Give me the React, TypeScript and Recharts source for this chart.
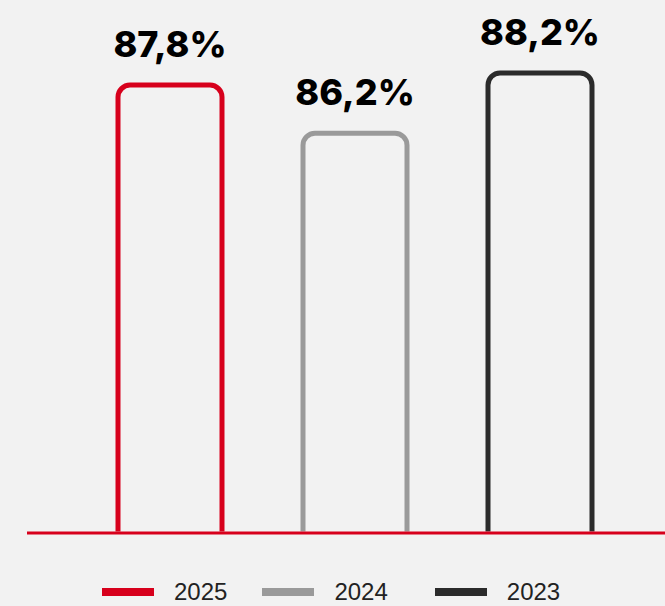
import { BarChart, Bar, XAxis, YAxis, Legend, LabelList } from 'recharts';

const years = ['2025', '2024', '2023'];
const values = [87.8, 86.2, 88.2];
const colors = ['#d7001c', '#9a9a9a', '#2b2b2b'];

const BG = '#f2f2f2';

const row: any = { name: '' };
years.forEach((y, i) => {
  row['y' + y] = values[i];
});
const chartData = [row];

const fmt = (v: any) => Number(v).toFixed(1).replace('.', ',') + '%';

const OpenBar = (props: any) => {
  const { x, y, width, height, stroke } = props;
  const r = 12;
  const b = y + height - 1.5;
  const d = `M${x},${b} L${x},${y + r} A${r},${r} 0 0 1 ${x + r},${y} L${x + width - r},${y} A${r},${r} 0 0 1 ${x + width},${y + r} L${x + width},${b}`;
  return <path d={d} fill={BG} stroke={stroke} strokeWidth={5} />;
};

const renderLegend = () => (
  <div style={{ display: 'flex', alignItems: 'center', paddingLeft: 102, height: 24 }}>
    {years.map((y, i) => (
      <div key={y} style={{ display: 'flex', alignItems: 'center', marginRight: i === 0 ? 35 : 47 }}>
        <span style={{ display: 'inline-block', width: 52, height: 8, background: colors[i], marginRight: 20 }} />
        <span style={{ fontFamily: '"Liberation Sans", Arial, sans-serif', fontSize: 24, color: '#222', lineHeight: '24px' }}>{y}</span>
      </div>
    ))}
  </div>
);

export default function App() {
  return (
    <div style={{ width: 665, height: 606, background: BG }}>
      <style>{`body{margin:0;background:${BG};}`}</style>
      <BarChart
        width={665}
        height={606}
        data={chartData}
        margin={{ top: 28, right: 0, left: 27, bottom: 2 }}
        barSize={104}
        barGap={81}
      >
        <YAxis hide width={0} type="number" domain={[72.9, 89.7]} />
        {years.map((y, i) => (
          <Bar
            key={y}
            dataKey={'y' + y}
            name={y}
            stroke={colors[i]}
            fill={BG}
            shape={<OpenBar />}
            isAnimationActive={false}
          >
            <LabelList
              dataKey={'y' + y}
              position="top"
              offset={28}
              formatter={fmt}
              style={{ fill: '#000', fontFamily: 'Inter, sans-serif', fontWeight: 800, fontSize: 36 }}
            />
          </Bar>
        ))}
        <XAxis
          dataKey="name"
          tick={false}
          tickLine={false}
          axisLine={{ stroke: '#d7001c', strokeWidth: 3 }}
          height={47}
          padding={{ left: 18, right: 0 }}
        />
        <Legend verticalAlign="bottom" align="left" content={renderLegend} wrapperStyle={{ left: 0, width: 665 }} />
      </BarChart>
    </div>
  );
}
